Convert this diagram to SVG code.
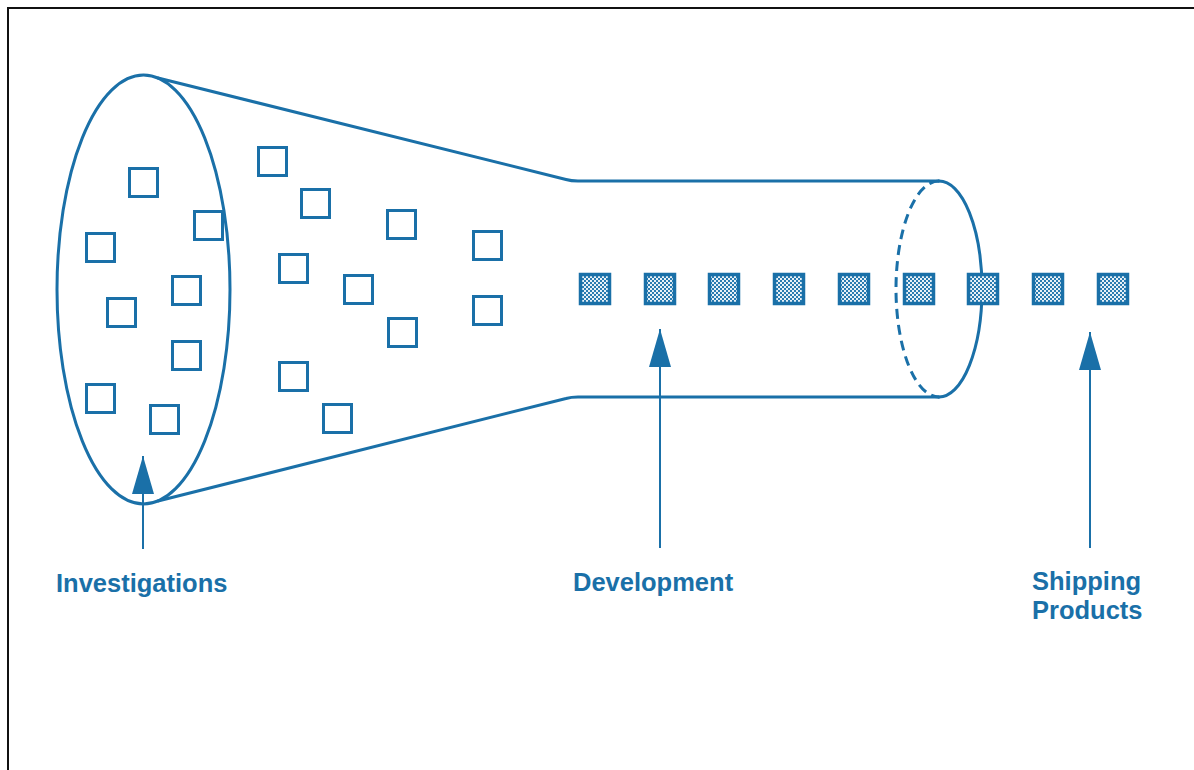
<svg xmlns="http://www.w3.org/2000/svg" width="1194" height="770" viewBox="0 0 1194 770">
  <style>
    .ln { fill: none; stroke: #1a70a8; stroke-width: 3; stroke-linejoin: round; stroke-linecap: round; }
    .dash { fill: none; stroke: #1a70a8; stroke-width: 3; stroke-dasharray: 10 6; }
    .box { fill: #ffffff; stroke: #1a70a8; stroke-width: 3; }
    .prod { fill: url(#dots); stroke: #1a70a8; stroke-width: 3.5; }
    .conn { fill: none; stroke: #1a70a8; stroke-width: 2; }
    .lbl { font-family: "Liberation Sans", Arial, Helvetica, sans-serif; font-weight: bold; font-size: 25.5px; fill: #1a70a8; }
  </style>
  <defs>
    <pattern id="dots" width="4" height="4" patternUnits="userSpaceOnUse">
      <rect width="4" height="4" fill="#e8f1f7"/>
      <rect x="0" y="0" width="2" height="2" fill="#2a7bb0"/>
      <rect x="2" y="2" width="2" height="2" fill="#2a7bb0"/>
    </pattern>
    <marker id="arr" markerUnits="userSpaceOnUse" markerWidth="38" markerHeight="22" viewBox="0 0 38 22" refX="38" refY="11" orient="auto">
      <path d="M0,0 L38,11 L0,22 Z" fill="#1a70a8"/>
    </marker>
  </defs>
  <rect width="1194" height="770" fill="#ffffff"/>
  <path d="M8,770 V8 H1194" fill="none" stroke="#111" stroke-width="2"/>

  <g id="funnel">
    <path class="ln" d="M158,78 L566,179.5 Q571,181 578,181 H939"/>
    <path class="ln" d="M158,501 L566,398.5 Q571,397 578,397 H939"/>
    <ellipse class="ln" cx="143.5" cy="289.5" rx="86.5" ry="214.5"/>
    <path class="ln" d="M939,181 A43,108 0 0 1 939,397"/>
    <path class="dash" d="M939,181 A43,108 0 0 0 939,397"/>
  </g>

  <g id="ideas">
    <rect class="box" x="129.5" y="168.5" width="28" height="28"/>
    <rect class="box" x="194.5" y="211.5" width="28" height="28"/>
    <rect class="box" x="86.5" y="233.5" width="28" height="28"/>
    <rect class="box" x="172.5" y="276.5" width="28" height="28"/>
    <rect class="box" x="107.5" y="298.5" width="28" height="28"/>
    <rect class="box" x="172.5" y="341.5" width="28" height="28"/>
    <rect class="box" x="86.5" y="384.5" width="28" height="28"/>
    <rect class="box" x="150.5" y="405.5" width="28" height="28"/>
    <rect class="box" x="258.5" y="147.5" width="28" height="28"/>
    <rect class="box" x="301.5" y="189.5" width="28" height="28"/>
    <rect class="box" x="387.5" y="210.5" width="28" height="28"/>
    <rect class="box" x="473.5" y="231.5" width="28" height="28"/>
    <rect class="box" x="279.5" y="254.5" width="28" height="28"/>
    <rect class="box" x="344.5" y="275.5" width="28" height="28"/>
    <rect class="box" x="473.5" y="296.5" width="28" height="28"/>
    <rect class="box" x="388.5" y="318.5" width="28" height="28"/>
    <rect class="box" x="279.5" y="362.5" width="28" height="28"/>
    <rect class="box" x="323.5" y="404.5" width="28" height="28"/>
  </g>

  <g id="products">
    <rect class="prod" x="580.5" y="274.5" width="29" height="29"/>
    <rect class="prod" x="645.5" y="274.5" width="29" height="29"/>
    <rect class="prod" x="709.5" y="274.5" width="29" height="29"/>
    <rect class="prod" x="774.5" y="274.5" width="29" height="29"/>
    <rect class="prod" x="839.5" y="274.5" width="29" height="29"/>
    <rect class="prod" x="904.5" y="274.5" width="29" height="29"/>
    <rect class="prod" x="968.5" y="274.5" width="29" height="29"/>
    <rect class="prod" x="1033.5" y="274.5" width="29" height="29"/>
    <rect class="prod" x="1098.5" y="274.5" width="29" height="29"/>
  </g>

  <g id="connectors">
    <line class="conn" x1="143" y1="549" x2="143" y2="456" marker-end="url(#arr)"/>
    <line class="conn" x1="660" y1="548" x2="660" y2="329" marker-end="url(#arr)"/>
    <line class="conn" x1="1090" y1="548" x2="1090" y2="332" marker-end="url(#arr)"/>
  </g>

  <g id="label-investigations">
    <text class="lbl" x="56" y="592">Investigations</text>
  </g>
  <g id="label-development">
    <text class="lbl" x="573" y="591">Development</text>
  </g>
  <g id="label-shipping">
    <text class="lbl" x="1032" y="590">Shipping</text>
    <text class="lbl" x="1032" y="619">Products</text>
  </g>
</svg>
